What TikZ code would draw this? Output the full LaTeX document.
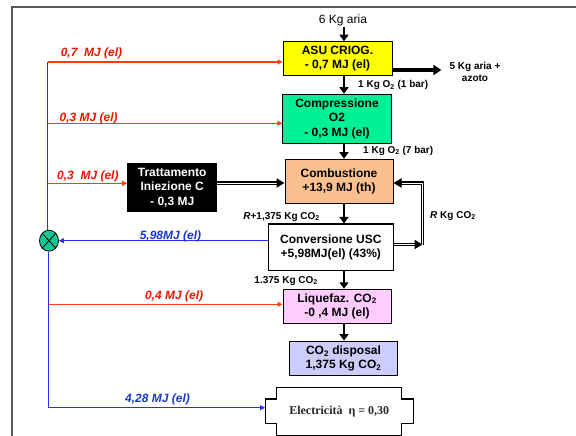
\documentclass[tikz,border=0pt]{standalone}
\usepackage{fontspec}
\setmainfont{Liberation Sans}
\newfontfamily\timesf{Liberation Serif}
\usetikzlibrary{arrows.meta,calc,shapes.geometric}
\definecolor{elred}{RGB}{255,60,10}
\definecolor{labred}{RGB}{235,20,0}
\definecolor{elblue}{RGB}{40,50,230}
\definecolor{labblue}{RGB}{25,55,205}
\definecolor{asuY}{RGB}{255,255,0}
\definecolor{compG}{RGB}{0,240,150}
\definecolor{combO}{RGB}{250,192,143}
\definecolor{liqP}{RGB}{255,204,255}
\definecolor{dispL}{RGB}{204,204,255}
\definecolor{mixG}{RGB}{20,200,150}
\begin{document}
\begin{tikzpicture}[x=1pt,y=-1pt,
  box/.style={draw=black,line width=1pt,align=center,inner sep=0pt,
    font=\bfseries\fontsize{12}{14.5}\selectfont},
  lab/.style={inner sep=1pt,font=\fontsize{12}{14}\selectfont},
  slab/.style={inner sep=1pt,align=center,font=\bfseries\fontsize{10}{12}\selectfont},
  rlab/.style={inner sep=0pt,text=labred,font=\bfseries\itshape\fontsize{12}{14}\selectfont},
  blab/.style={inner sep=0pt,text=labblue,font=\bfseries\itshape\fontsize{12}{14}\selectfont},
  rconn/.style={draw=elred,line width=1.1pt,-{Triangle[length=5pt,width=5pt]}},
  bconn/.style={draw=elblue,line width=1.1pt},
  blk/.style={draw=black,line width=2.2pt,-{Triangle[length=6.5pt,width=9pt]}},
  thk/.style={draw=black,line width=3.5pt,-{Triangle[length=8pt,width=10pt]}},
  dbl/.style={draw=black,line width=1.2pt,double=white,double distance=1pt},
  dblhead/.style={draw=black,line width=3.4pt,-{Triangle[length=8pt,width=9pt]}},
  frame/.style={draw=black!65,line width=2pt}
]
\useasboundingbox (0,0) rectangle (576,436);
% outer frame
\draw[frame] (12,437) -- (12,7.5) -- (577,7.5);

% boxes
\node[box,fill=asuY,minimum width=109pt,minimum height=34pt] (asu) at (337.5,58.7) {ASU CRIOG.\\- 0,7 MJ (el)};
\node[box,fill=compG,minimum width=108.5pt,minimum height=49pt] (comp) at (337,118.7) {Compressione\\O2\\- 0,3 MJ (el)};
\node[box,fill=combO,minimum width=108pt,minimum height=44pt] (comb) at (339,181.2) {Combustione\\+13,9 MJ (th)};
\node[box,fill=black,text=white,minimum width=89pt,minimum height=48.4pt] (trat) at (172.2,187.5) {Trattamento\\Iniezione C\\- 0,3 MJ};
\node[box,fill=white,minimum width=125pt,minimum height=46.7pt,line width=1.2pt] (conv) at (330.8,247.4) {Conversione USC\\+5,98MJ(el) (43\%)};
\node[box,fill=liqP,minimum width=108pt,minimum height=34pt] (liq) at (337,306.3) {Liquefaz. CO\textsubscript{2}\\-0 ,4 MJ (el)};
\node[box,fill=dispL,minimum width=108pt,minimum height=34.7pt] (disp) at (343.5,358.4) {CO\textsubscript{2} disposal\\1,375 Kg CO\textsubscript{2}};

% Electricita shape
\draw[line width=1.1pt,fill=white] (276.3,387.7) -- (401.2,387.7) -- (401.2,399) -- (413.3,399) -- (413.3,423.3) -- (401.2,423.3) -- (401.2,436) -- (276.3,436) -- (276.3,423.3) -- (265.2,423.3) -- (265.2,399) -- (276.3,399) -- cycle;
\node[minimum width=148pt,minimum height=47pt,inner sep=0pt,text=black!85,font=\timesf\bfseries\fontsize{12}{14}\selectfont] (elec) at (339.25,411.35) {Electricità~~η = 0,30};

% mixer
\node[ellipse,draw=black,line width=0.8pt,fill=mixG,minimum width=19pt,minimum height=21pt,inner sep=0pt] (mix) at (49,240.7) {};
\draw[line width=0.8pt] (mix.north west) -- (mix.south east) (mix.north east) -- (mix.south west);

% flow labels
\coordinate (ax) at (344,0);
\node[lab] (aria) at (343,20.7) {6 Kg aria};
\node[slab] (azoto) at (475,71.7) {5 Kg aria +\\azoto};
\node[slab,anchor=west] (o1) at (357,85) {1 Kg O\textsubscript{2} (1 bar)};
\node[slab,anchor=west] (o7) at (362,150.7) {1 Kg O\textsubscript{2} (7 bar)};
\node[slab,anchor=east] (rco) at (321,216.7) {\textit{R}+1,375 Kg CO\textsubscript{2}};
\node[slab,anchor=west] (rk) at (429,216) {\textit{R} Kg CO\textsubscript{2}};
\node[slab,anchor=east] (co) at (319,281) {1.375 Kg CO\textsubscript{2}};

% vertical black arrows
\draw[blk] (aria.south -| ax) -- (asu.north -| ax);
\draw[blk] (asu.south -| ax) -- (comp.north -| ax);
\draw[blk] (comp.south -| ax) -- (comb.north -| ax);
\draw[blk] (comb.south -| ax) -- (conv.north -| ax);
\draw[blk] (conv.south -| ax) -- (liq.north -| ax);
\draw[blk] (liq.south -| ax) -- (disp.north -| ax);
\draw[thk,shorten >=7pt] (asu.east |- 0,70) -- (azoto.west |- 0,70);

% double arrows
\draw[dbl] (trat.east |- 0,183) -- ($(comb.west |- 0,183)+(-7,0)$);
\draw[dblhead] ($(comb.west |- 0,183)+(-8,0)$) -- (comb.west |- 0,183);
\coordinate (lp) at (422.5,244.5);
\coordinate (lq) at (422.5,183);
\draw[dbl] (conv.east |- lp) -- ($(lp)+(-7,0)$);
\draw[dblhead] ($(lp)+(-8,0)$) -- (lp);
\draw[dbl] (lp) -- (lq) -- ($(comb.east |- lq)+(7,0)$);
\draw[dblhead] ($(comb.east |- lq)+(8,0)$) -- (comb.east |- lq);

% electrical bus
\coordinate (b1) at (47.5,62);
\coordinate (b2) at (47.5,123.3);
\coordinate (b3) at (47.5,183.3);
\coordinate (b4) at (48.5,304.3);
\coordinate (b6) at (48.5,407.7);
\draw[bconn] (b1) -- (b1 |- mix.north);
\draw[bconn] (b6 |- mix.south) -- (b6);
\draw[bconn,-{Triangle[length=5pt,width=5pt]}] (b6) -- (elec.west |- b6);
\draw[bconn,-{Triangle[length=5pt,width=5pt]}] (conv.west |- mix.east) -- (mix.east);
\draw[rconn] (b1) -- (asu.west |- b1);
\draw[rconn] (b2) -- (comp.west |- b2);
\draw[rconn] (b3) -- (trat.west |- b3);
\draw[rconn] (b4) -- (liq.west |- b4);

\node[rlab,anchor=west] (l1) at (60.6,53) {0,7~~MJ (el)};
\node[rlab,anchor=west] (l2) at (59.5,118) {0,3 MJ (el)};
\node[rlab,anchor=west] (l3) at (57,176) {0,3~~MJ (el)};
\node[rlab,anchor=west] (l4) at (145,296) {0,4 MJ (el)};
\node[blab,anchor=west] (l5) at (139.6,236.5) {5,98MJ (el)};
\node[blab,anchor=west] (l6) at (125,399.3) {4,28 MJ (el)};
\end{tikzpicture}
\end{document}
